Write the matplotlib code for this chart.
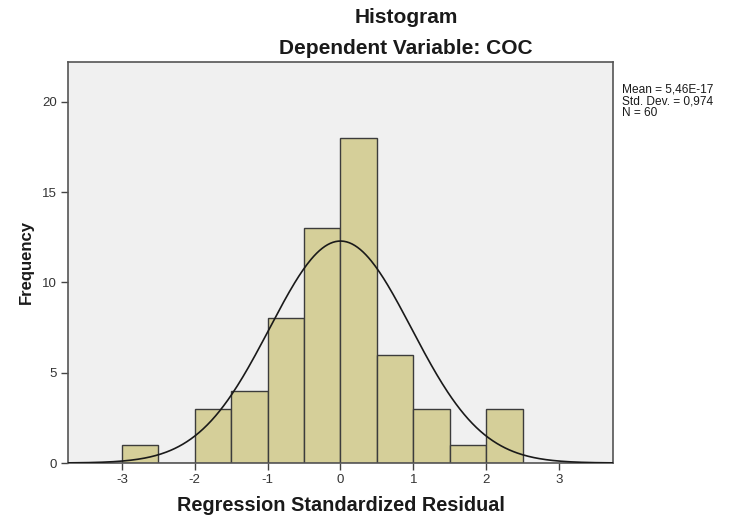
import numpy as np
import matplotlib
matplotlib.use("Agg")
import matplotlib.pyplot as plt

# --- data ---
bin_left = [-3.0, -2.5, -2.0, -1.5, -1.0, -0.5, 0.0, 0.5, 1.0, 1.5, 2.0]
counts = [1, 0, 3, 4, 8, 13, 18, 6, 3, 1, 3]
bin_width = 0.5
mean = 5.46e-17
std_dev = 0.974
n_obs = 60

x_ticks = [-3, -2, -1, 0, 1, 2, 3]
y_ticks = [0, 5, 10, 15, 20]

plt.rcParams['font.family'] = ['Liberation Sans', 'DejaVu Sans']

fig = plt.figure(figsize=(7.36, 5.17), dpi=100, facecolor='white')
ax = fig.add_axes([68 / 736, 54 / 517, (613 - 68) / 736, (463 - 62) / 517])
ax.set_facecolor('#f0f0f0')

ax.bar(bin_left, counts, width=bin_width, align='edge',
       color='#d5cf99', edgecolor='#3c3c3c', linewidth=1.0, zorder=2)

# normal curve scaled to counts
xs = np.linspace(-3.74, 3.74, 400)
pdf = np.exp(-0.5 * ((xs - mean) / std_dev) ** 2) / (std_dev * np.sqrt(2 * np.pi))
ax.plot(xs, n_obs * bin_width * pdf, color='#1a1a1a', linewidth=1.2, zorder=3)

ax.set_xlim(-3.74, 3.74)
ax.set_ylim(0, 22.2)
ax.set_xticks(x_ticks)
ax.set_yticks(y_ticks)
ax.set_xticklabels([str(t) for t in x_ticks])
ax.tick_params(axis='both', direction='out', length=5, width=1,
               color='#444444', labelsize=9.5, labelcolor='#333333', pad=3)

for side in ['left', 'right', 'top', 'bottom']:
    ax.spines[side].set_color('#555555')
    ax.spines[side].set_linewidth(1.2)

ax.set_xlabel('Regression Standardized Residual', fontsize=14.3,
              fontweight='bold', color='#1a1a1a', labelpad=7)
ax.set_ylabel('Frequency', fontsize=12, fontweight='bold',
              color='#1a1a1a', labelpad=6)

fig.text(0.552, 0.967, 'Histogram', ha='center', va='center',
         fontsize=15, fontweight='bold', color='#1a1a1a')
fig.text(0.552, 0.907, 'Dependent Variable: COC', ha='center', va='center',
         fontsize=15, fontweight='bold', color='#1a1a1a')

stats = 'Mean = 5,46E-17\nStd. Dev. = 0,974\nN = %d' % n_obs
fig.text(622 / 736, 1 - 84 / 517, stats, ha='left', va='top',
         fontsize=8.6, color='#1a1a1a', linespacing=0.95)

fig.savefig('out.png', dpi=100, facecolor='white')
